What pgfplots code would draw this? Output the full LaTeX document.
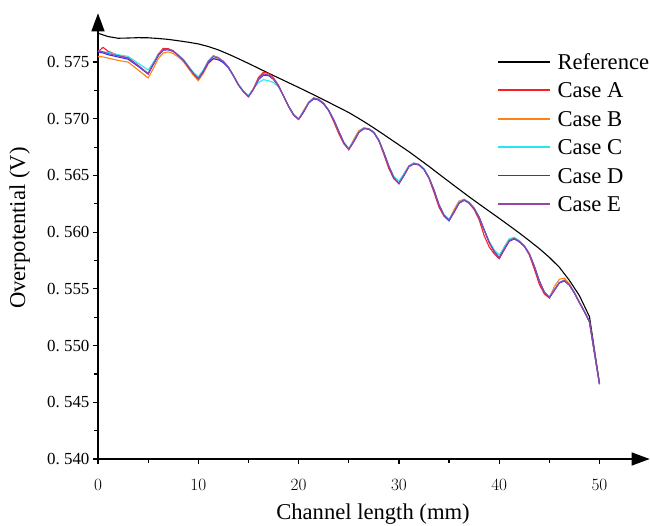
\documentclass[border=0pt]{standalone}
\usepackage[no-math]{fontspec}
\setmainfont{Liberation Serif}
\usepackage{pgfplots}
\usepackage{pgfplotstable}
\pgfplotsset{compat=1.18}
\usetikzlibrary{arrows.meta}
\definecolor{myred}{RGB}{250,30,40}
\definecolor{myorange}{RGB}{255,128,20}
\definecolor{mycyan}{RGB}{40,230,240}
\definecolor{myblue}{RGB}{45,45,255}
\definecolor{mypurple}{RGB}{150,70,165}

\pgfplotstableread{
x A B C D E
0      0.57590 0.57550 0.57595 0.57590 0.57600
0.5    0.57630 0.57545 0.57590 0.57580 0.57590
1      0.57595 0.57535 0.57585 0.57565 0.57575
2      0.57560 0.57515 0.57565 0.57545 0.57555
3      0.57538 0.57500 0.57550 0.57525 0.57535
4      0.57470 0.57430 0.57490 0.57462 0.57470
5      0.57395 0.57360 0.57430 0.57395 0.57400
5.5    0.57485 0.57440 0.57495 0.57475 0.57480
6      0.57570 0.57530 0.57565 0.57555 0.57560
6.5    0.57620 0.57580 0.57610 0.57605 0.57610
7      0.57618 0.57590 0.57610 0.57608 0.57612
7.5    0.57600 0.57575 0.57595 0.57595 0.57595
8      0.57560 0.57545 0.57562 0.57558 0.57560
8.5    0.57520 0.57505 0.57525 0.57518 0.57520
9      0.57460 0.57445 0.57468 0.57458 0.57460
9.5    0.57400 0.57385 0.57410 0.57400 0.57400
10     0.57355 0.57335 0.57370 0.57352 0.57355
10.5   0.57420 0.57400 0.57430 0.57415 0.57420
11     0.57510 0.57485 0.57510 0.57495 0.57505
11.5   0.57555 0.57530 0.57550 0.57530 0.57548
12     0.57540 0.57525 0.57538 0.57520 0.57535
12.5   0.57505 0.57500 0.57508 0.57495 0.57505
13     0.57455 0.57455 0.57458 0.57450 0.57455
13.5   0.57380 0.57380 0.57385 0.57378 0.57380
14     0.57300 0.57300 0.57305 0.57298 0.57300
14.5   0.57238 0.57240 0.57245 0.57240 0.57240
15     0.57195 0.57195 0.57205 0.57195 0.57195
15.5   0.57265 0.57270 0.57265 0.57260 0.57260
16     0.57365 0.57350 0.57320 0.57345 0.57350
16.5   0.57410 0.57395 0.57345 0.57385 0.57395
17     0.57400 0.57385 0.57335 0.57380 0.57385
17.5   0.57360 0.57350 0.57320 0.57348 0.57350
18     0.57295 0.57290 0.57280 0.57288 0.57290
18.5   0.57200 0.57200 0.57200 0.57200 0.57200
19     0.57108 0.57110 0.57115 0.57110 0.57110
19.5   0.57032 0.57035 0.57040 0.57035 0.57035
20     0.56995 0.56995 0.57000 0.56995 0.56995
20.5   0.57060 0.57075 0.57065 0.57060 0.57060
21     0.57145 0.57145 0.57145 0.57138 0.57140
21.5   0.57185 0.57180 0.57182 0.57175 0.57180
22     0.57172 0.57170 0.57170 0.57165 0.57170
22.5   0.57135 0.57135 0.57138 0.57130 0.57135
23     0.57072 0.57075 0.57078 0.57072 0.57075
23.5   0.56975 0.56990 0.56995 0.56990 0.56990
24     0.56870 0.56890 0.56892 0.56890 0.56890
24.5   0.56780 0.56790 0.56795 0.56790 0.56790
25     0.56728 0.56730 0.56740 0.56730 0.56730
25.5   0.56800 0.56820 0.56805 0.56798 0.56800
26     0.56880 0.56895 0.56885 0.56878 0.56880
26.5   0.56918 0.56920 0.56918 0.56912 0.56915
27     0.56912 0.56910 0.56912 0.56908 0.56910
27.5   0.56880 0.56880 0.56882 0.56878 0.56880
28     0.56808 0.56810 0.56815 0.56808 0.56810
28.5   0.56685 0.56700 0.56705 0.56700 0.56700
29     0.56560 0.56580 0.56585 0.56578 0.56580
29.5   0.56470 0.56480 0.56490 0.56478 0.56480
30     0.56428 0.56430 0.56450 0.56428 0.56430
30.5   0.56500 0.56515 0.56515 0.56498 0.56500
31     0.56582 0.56585 0.56585 0.56578 0.56580
31.5   0.56608 0.56608 0.56610 0.56602 0.56605
32     0.56598 0.56595 0.56598 0.56592 0.56595
32.5   0.56555 0.56555 0.56560 0.56552 0.56555
33     0.56475 0.56480 0.56485 0.56478 0.56480
33.5   0.56350 0.56370 0.56375 0.56368 0.56370
34     0.56220 0.56240 0.56245 0.56238 0.56240
34.5   0.56140 0.56150 0.56155 0.56148 0.56150
35     0.56100 0.56105 0.56115 0.56102 0.56105
35.5   0.56175 0.56200 0.56185 0.56178 0.56180
36     0.56258 0.56275 0.56265 0.56255 0.56260
36.5   0.56285 0.56290 0.56290 0.56280 0.56285
37     0.56255 0.56260 0.56265 0.56258 0.56260
37.5   0.56200 0.56210 0.56215 0.56208 0.56210
38     0.56110 0.56130 0.56135 0.56130 0.56130
38.5   0.55970 0.56020 0.56025 0.56020 0.56020
39     0.55870 0.55910 0.55918 0.55910 0.55910
39.5   0.55810 0.55830 0.55845 0.55828 0.55830
40     0.55765 0.55775 0.55800 0.55772 0.55775
40.5   0.55845 0.55870 0.55865 0.55848 0.55850
41     0.55925 0.55940 0.55940 0.55920 0.55925
41.5   0.55948 0.55950 0.55955 0.55940 0.55945
42     0.55922 0.55922 0.55925 0.55915 0.55920
42.5   0.55878 0.55880 0.55882 0.55875 0.55880
43     0.55800 0.55810 0.55812 0.55808 0.55810
43.5   0.55675 0.55700 0.55702 0.55698 0.55700
44     0.55540 0.55570 0.55572 0.55568 0.55570
44.5   0.55455 0.55470 0.55475 0.55468 0.55470
45     0.55420 0.55425 0.55430 0.55422 0.55425
45.5   0.55488 0.55520 0.55495 0.55488 0.55490
46     0.55555 0.55585 0.55558 0.55552 0.55555
46.5   0.55575 0.55595 0.55578 0.55570 0.55575
47     0.55535 0.55545 0.55538 0.55532 0.55535
47.5   0.55465 0.55468 0.55468 0.55462 0.55465
48     0.55380 0.55380 0.55382 0.55378 0.55380
48.5   0.55300 0.55300 0.55300 0.55298 0.55300
49     0.55210 0.55210 0.55205 0.55212 0.55210
50     0.54660 0.54660 0.54660 0.54660 0.54660
}\casesdata

\pgfplotstableread{
x R
0 0.57754
1 0.57725
2 0.57710
3 0.57712
4 0.57715
5 0.57714
6 0.57708
7 0.57700
8 0.57688
9 0.57675
10 0.57660
11 0.57637
12 0.57607
13 0.57570
14 0.57530
15 0.57488
16 0.57445
17 0.57402
18 0.57360
19 0.57318
20 0.57276
21 0.57233
22 0.57190
23 0.57145
24 0.57100
25 0.57055
26 0.57003
27 0.56948
28 0.56890
29 0.56830
30 0.56770
31 0.56710
32 0.56645
33 0.56580
34 0.56512
35 0.56445
36 0.56378
37 0.56312
38 0.56248
39 0.56185
40 0.56122
41 0.56058
42 0.55993
43 0.55925
44 0.55855
45 0.55778
46 0.55690
47 0.55575
48 0.55440
49 0.55255
50 0.54667
}\refdata

\begin{document}
\begin{tikzpicture}
\begin{axis}[
  at={(0,0)}, anchor=south west,
  scale only axis, width=551.65bp, height=445.7bp,
  xmin=0, xmax=55, ymin=0.540, ymax=0.5793,
  axis lines=left,
  axis line style={line width=1.4bp, -{Triangle[length=18bp,width=13bp]}},
  tick align=outside,
  major tick length=5bp, minor tick length=3.5bp,
  every tick/.append style={black, line width=1.2bp},
  xtick={0,10,20,30,40,50},
  minor xtick={5,15,25,35,45},
  ytick={0.540,0.545,0.550,0.555,0.560,0.565,0.570,0.575},
  minor ytick={0.5425,0.5475,0.5525,0.5575,0.5625,0.5675,0.5725},
  yticklabels={{0.\ 540},{0.\ 545},{0.\ 550},{0.\ 555},{0.\ 560},{0.\ 565},{0.\ 570},{0.\ 575}},
  tick label style={font=\fontsize{17}{20}\selectfont},
  xticklabel style={yshift=-12bp},
  xlabel={Channel length (mm)}, ylabel={Overpotential (V)},
  label style={font=\fontsize{22.7}{27}\selectfont},
  xlabel style={at={(axis description cs:0.4985,-0.1227)}, anchor=center},
  ylabel style={at={(axis description cs:-0.142,0.518)}, anchor=center},
  legend cell align=left,
  legend image code/.code={\draw[#1, line width=1.8bp] (0bp,0bp) -- (52bp,0bp);},
  legend style={at={(axis description cs:0.7233,0.9143)}, anchor=north west,
    draw=none, fill=none, inner sep=0pt, outer sep=0pt,
    row sep=7.4bp, column sep=6.7bp,
    font=\fontsize{22.7}{27}\selectfont,
    nodes={inner sep=0pt, text height=18bp, text depth=3bp}},
  every axis plot/.append style={line width=1.1bp},
]
\addplot[color=black] table[x=x,y=R] {\refdata};
\addlegendentry{Reference}
\addplot[color=myred] table[x=x,y=A] {\casesdata};
\addlegendentry{Case A}
\addplot[color=myorange] table[x=x,y=B] {\casesdata};
\addlegendentry{Case B}
\addplot[color=mycyan] table[x=x,y=C] {\casesdata};
\addlegendentry{Case C}
\addplot[color=myblue] table[x=x,y=D] {\casesdata};
\addlegendentry{Case D}
\addplot[color=mypurple] table[x=x,y=E] {\casesdata};
\addlegendentry{Case E}
\end{axis}
\pgfresetboundingbox
\path[use as bounding box] (-98bp,-67bp) rectangle (552bp,459bp);
\end{tikzpicture}
\end{document}
